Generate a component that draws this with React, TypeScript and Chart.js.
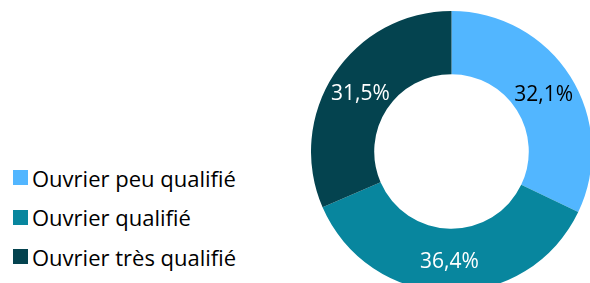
import React, { useEffect, useRef } from "react";
import { Chart, registerables } from "chart.js";

Chart.register(...registerables);

const categories = ["Ouvrier peu qualifié", "Ouvrier qualifié", "Ouvrier très qualifié"];
const values = [32.1, 36.4, 31.5];
const colors = ["#52B6FF", "#08869E", "#04434F"];
const labelColors = ["#000000", "#FFFFFF", "#FFFFFF"];

const FONT = "'Open Sans', 'Noto Sans', sans-serif";

const sliceLabels = {
  id: "sliceLabels",
  afterDatasetsDraw(chart: any) {
    const ctx = chart.ctx;
    const meta = chart.getDatasetMeta(0);
    ctx.save();
    ctx.font = `21px ${FONT}`;
    ctx.textAlign = "center";
    ctx.textBaseline = "middle";
    meta.data.forEach((arc: any, i: number) => {
      const p = arc.tooltipPosition();
      ctx.fillStyle = labelColors[i];
      ctx.fillText(values[i].toFixed(1).replace(".", ",") + "%", p.x, p.y + 2);
    });
    ctx.restore();
  },
};

export default function App() {
  const ref = useRef<HTMLCanvasElement>(null);
  useEffect(() => {
    if (!ref.current) return;
    const chart = new Chart(ref.current, {
      type: "doughnut",
      data: {
        labels: categories,
        datasets: [
          {
            data: values,
            backgroundColor: colors,
            borderWidth: 0,
          },
        ],
      },
      options: {
        animation: false,
        responsive: false,
        cutout: "55%",
        layout: { padding: 0 },
        plugins: { legend: { display: false }, tooltip: { enabled: false } },
      },
      plugins: [sliceLabels],
    });
    return () => chart.destroy();
  }, []);

  return (
    <div
      style={{
        position: "fixed",
        left: 0,
        top: 0,
        width: 590,
        height: 283,
        overflow: "hidden",
        background: "#fff",
      }}
    >
      <canvas
        ref={ref}
        width={281}
        height={281}
        style={{ position: "absolute", left: 311, top: 11, width: 281, height: 281 }}
      />
      <div style={{ position: "absolute", left: 13, top: 158, fontFamily: FONT }}>
        {categories.map((c, i) => (
          <div
            key={c}
            style={{ display: "flex", alignItems: "center", height: 39.5, whiteSpace: "nowrap" }}
          >
            <span
              style={{
                display: "inline-block",
                width: 15,
                height: 15,
                background: colors[i],
                marginRight: 4,
              }}
            />
            <span style={{ fontSize: 22, color: "#000" }}>{c}</span>
          </div>
        ))}
      </div>
    </div>
  );
}
